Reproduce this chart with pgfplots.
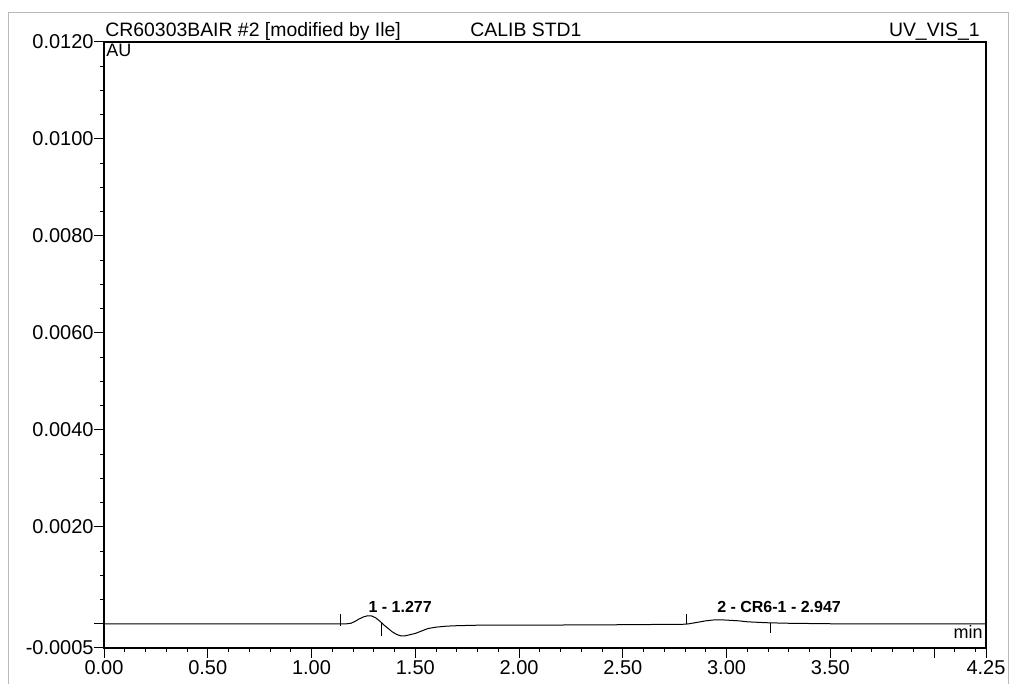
\documentclass[border=0pt]{standalone}
\usepackage{fontspec}
\setmainfont{Liberation Sans}
\usepackage{pgfplots}
\pgfplotsset{compat=1.18}

\begin{document}
\begin{tikzpicture}
\begin{axis}[
  scale only axis, width=441pt, height=303pt,
  xmin=0, xmax=4.25, ymin=-0.0005, ymax=0.012,
  axis line style={line width=0.7pt},
  tick align=outside, xtick pos=bottom, ytick pos=left,
  major tick length=5pt, minor tick length=2pt,
  tick style={black, line width=0.5pt},
  xtick={0,0.5,1,1.5,2,2.5,3,3.5,4,4.25},
  xticklabels={0.00,0.50,1.00,1.50,2.00,2.50,3.00,3.50,,4.25},
  minor xtick={0.1,0.2,0.3,0.4,0.6,0.7,0.8,0.9,1.1,1.2,1.3,1.4,1.6,1.7,1.8,1.9,
    2.1,2.2,2.3,2.4,2.6,2.7,2.8,2.9,3.1,3.2,3.3,3.4,3.6,3.7,3.8,3.9,4.1,4.2},
  ytick={-0.0005,0,0.002,0.004,0.006,0.008,0.010,0.012},
  yticklabels={-0.0005,,0.0020,0.0040,0.0060,0.0080,0.0100,0.0120},
  minor ytick={0.0005,0.001,0.0015,0.0025,0.003,0.0035,0.0045,0.005,0.0055,
    0.0065,0.007,0.0075,0.0085,0.009,0.0095,0.0105,0.011,0.0115},
  scaled x ticks=false, scaled y ticks=false,
  tick label style={font=\fontsize{10}{11}\selectfont},
  xticklabel style={inner sep=0pt, yshift=-1pt},
  yticklabel style={inner sep=0pt, xshift=0pt},
  clip=false,
]
% UV_VIS_1 trace
\addplot[black, line width=0.5pt] coordinates {
  (0.00,0) (0.50,0) (1.00,0) (1.15,0) (1.17,0.00000) (1.19,0.00001)
  (1.21,0.00005) (1.23,0.00010) (1.25,0.00014) (1.27,0.000165) (1.29,0.00016)
  (1.31,0.00012) (1.33,0.00005) (1.35,-0.00003) (1.37,-0.00010) (1.39,-0.00017)
  (1.41,-0.00022) (1.43,-0.00025) (1.45,-0.00025) (1.47,-0.00023) (1.50,-0.00020)
  (1.53,-0.00015) (1.56,-0.00010) (1.60,-0.00007) (1.65,-0.00005) (1.70,-0.00004)
  (1.80,-0.00003) (2.00,-0.00003) (2.50,-0.00002) (2.80,-0.00001) (2.82,0)
  (2.86,0.00003) (2.90,0.00006) (2.94,0.00008) (2.98,0.00008) (3.02,0.00007)
  (3.06,0.00006) (3.10,0.00004) (3.15,0.00003) (3.20,0.00002) (3.30,0.00001)
  (3.50,0) (4.25,0)
};
% integration delimiters
\addplot[black, line width=0.4pt] coordinates {(1.137,-0.00004) (1.137,0.0002)};
\addplot[black, line width=0.4pt] coordinates {(1.338,0.00002) (1.338,-0.00026)};
\addplot[black, line width=0.4pt] coordinates {(2.805,0) (2.805,0.0002)};
\addplot[black, line width=0.4pt] coordinates {(3.210,0.00002) (3.210,-0.0002)};
\node[font=\fontsize{8}{9}\bfseries\selectfont] at (axis cs:1.427,0.00034) {1 - 1.277};
\node[font=\fontsize{8}{9}\bfseries\selectfont] at (axis cs:3.253,0.00034) {2 - CR6-1 - 2.947};
\end{axis}
\node[anchor=base west, inner sep=0pt, font=\fontsize{9.7}{11}\selectfont] at (0.5pt,305.5pt) {CR60303BAIR \#2 [modified by Ile]};
\node[anchor=base west, inner sep=0pt, font=\fontsize{9.7}{11}\selectfont] at (183pt,305.5pt) {CALIB STD1};
\node[anchor=base east, inner sep=0pt, font=\fontsize{9.7}{11}\selectfont] at (438pt,305.5pt) {UV\_VIS\_1};
\node[anchor=north west, inner sep=0pt, font=\fontsize{9}{10}\selectfont] at (1pt,302pt) {AU};
\node[anchor=base east, inner sep=0pt, font=\fontsize{9}{10}\selectfont] at (439.5pt,4.5pt) {min};
% scanned page border
\draw[gray!55, line width=0.4pt] (-48pt,-18pt) -- (-48pt,318pt) -- (452pt,318pt) -- (452pt,-18pt);
\pgfresetboundingbox
\path[use as bounding box] (-52pt,-18pt) rectangle (457pt,324pt);
\end{tikzpicture}
\end{document}
